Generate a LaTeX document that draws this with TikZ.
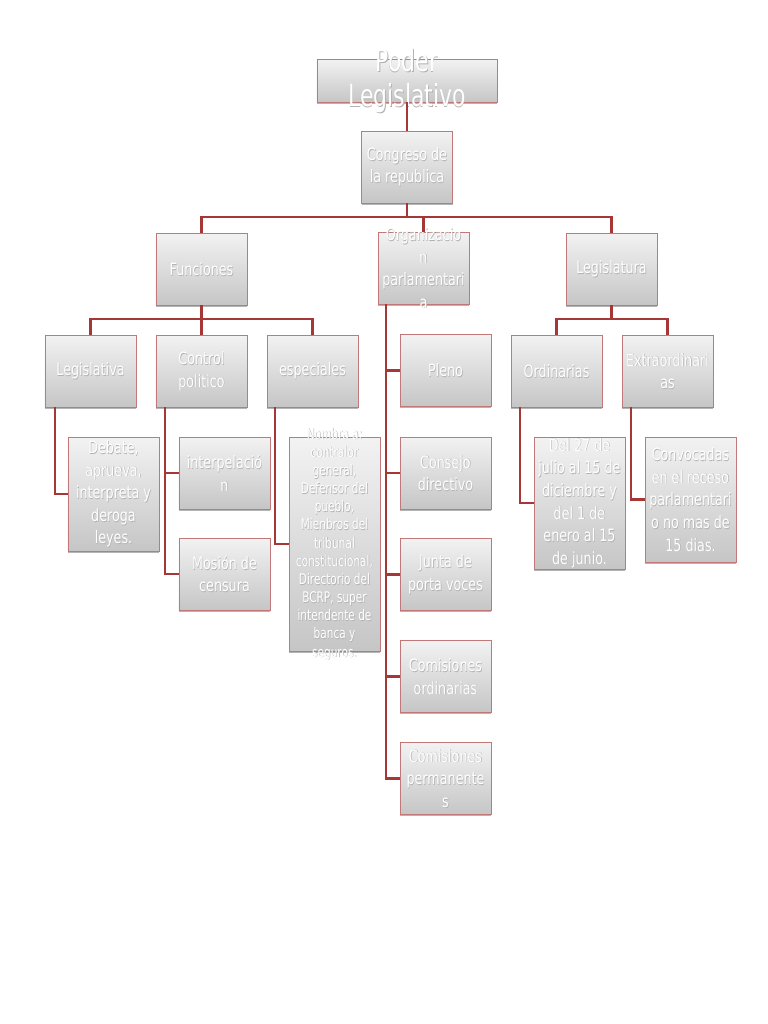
\documentclass[tikz,border=0pt]{standalone}
\usepackage{fontspec}
\usetikzlibrary{calc,shadows}
\newfontfamily\cajafont[FakeStretch=0.75]{DejaVu Sans}
\newfontfamily\chicafont[FakeStretch=0.72]{DejaVu Sans}
\newfontfamily\titulofont[FakeStretch=0.72]{DejaVu Sans}
\definecolor{rojo}{RGB}{165,55,55}
\definecolor{borde}{RGB}{192,120,120}
\tikzset{
  caja/.style={rectangle, draw=borde, line width=0.7pt, top color=gray!10, bottom color=gray!45,
    minimum width=2.73cm, minimum height=2.16cm, inner sep=0pt, outer sep=0pt,
    drop shadow={shadow xshift=0.3pt, shadow yshift=-1.5pt, opacity=0.45, fill=gray!70!black}},
  texto/.style={text=white, align=center, inner sep=0pt, font=\cajafont\fontsize{14.5}{19.3}\selectfont},
  sombra/.style={texto, text=gray!60, xshift=0.5pt, yshift=-0.6pt},
  chico/.style={font=\chicafont\fontsize{12.5}{15.5}\selectfont},
  grande/.style={font=\titulofont\fontsize{26}{30}\selectfont},
  rotulo con/.style 2 args={label={[sombra,#1]center:{#2}}, label={[texto,#1]center:{#2}}},
  rotulo/.style={rotulo con={}{#1}},
  linea/.style={draw=rojo, line width=2.3pt},
}
\begin{document}
\begin{tikzpicture}[x=0.03cm, y=-0.03cm]
  \useasboundingbox[fill=white] (0,0) rectangle (768,1024);
  % cajas
  \node[caja, minimum width=5.4cm, minimum height=1.29cm, rotulo con={grande}{Poder\\Legislativo}] (poder) at (407,80.5) {};
  \node[caja, rotulo={Congreso de\\la republica}] (congreso) at (407,167) {};
  \node[caja, rotulo={Funciones}] (funciones) at (201.5,269) {};
  \node[caja, rotulo={Organizacio\\n\\parlamentari\\a}] (organizacion) at (423.5,268) {};
  \node[caja, rotulo={Legislatura}] (legislatura) at (611.5,269) {};
  \node[caja, rotulo={Legislativa}] (legislativa) at (90.5,371) {};
  \node[caja, rotulo={Control\\politico}] (control) at (201.5,371) {};
  \node[caja, rotulo={especiales}] (especiales) at (312.5,371) {};
  \node[caja, minimum height=3.42cm, rotulo={Debate,\\aprueva,\\interpreta y\\deroga\\leyes.}] (debate) at (113.5,494) {};
  \node[caja, rotulo={interpelació\\n}] (interpelacion) at (224.5,473) {};
  \node[caja, rotulo={Mosión de\\censura}] (mosion) at (224.5,574) {};
  \node[caja, minimum height=6.42cm, rotulo con={chico}{Nombra a:\\contralor\\general,\\Defensor del\\pueblo,\\Mienbros del\\tribunal\\constitucional,\\Directorio del\\BCRP, super\\intendente de\\banca y\\seguros.}] (nombres) at (334.5,544) {};
  \node[caja, rotulo={Pleno}] (pleno) at (445.5,370.5) {};
  \node[caja, rotulo={Consejo\\directivo}] (consejo) at (445.5,473) {};
  \node[caja, rotulo={Junta de\\porta voces}] (junta) at (445.5,574.5) {};
  \node[caja, rotulo={Comisiones\\ordinarias}] (comOrd) at (445.5,676.5) {};
  \node[caja, rotulo={Comisiones\\permanente\\s}] (comPer) at (445.5,778.5) {};
  \node[caja, rotulo={Ordinarias}] (ordinarias) at (556.5,371) {};
  \node[caja, rotulo={Extraordinari\\as}] (extra) at (667.5,371) {};
  \node[caja, minimum height=3.96cm, rotulo={Del 27 de\\julio al 15 de\\diciembre y\\del 1 de\\enero al 15\\de junio.}] (del27) at (579.5,503) {};
  \node[caja, minimum height=3.75cm, rotulo={Convocadas\\en el receso\\parlamentari\\o no mas de\\15 dias.}] (convocadas) at (690.5,499.5) {};
  % lineas
  \draw[linea] (poder.south) -- (congreso.north);
  \draw[linea] (congreso.south) -- ++(0,14) coordinate (b1);
  \draw[linea] (funciones.north) |- (b1) -| (legislatura.north);
  \draw[linea] (organizacion.north) -- (organizacion.north |- b1);
  \draw[linea] (funciones.south) -- ++(0,14) coordinate (b2);
  \draw[linea] (legislativa.north) |- (b2) -| (especiales.north);
  \draw[linea] (control.north) -- (b2);
  \draw[linea] (legislatura.south) -- ++(0,14) coordinate (b3);
  \draw[linea] (ordinarias.north) |- (b3) -| (extra.north);
  \draw[linea] ($(legislativa.south west)+(10,0)$) |- (debate.west);
  \draw[linea] ($(control.south west)+(9,0)$) coordinate (c1) |- (mosion.west);
  \draw[linea] (c1 |- interpelacion.west) -- (interpelacion.west);
  \draw[linea] ($(especiales.south west)+(8,0)$) |- (nombres.west);
  \draw[linea] ($(organizacion.south west)+(8,0)$) coordinate (o1) |- (comPer.west);
  \foreach \n in {pleno,consejo,junta,comOrd} \draw[linea] (o1 |- \n.west) -- (\n.west);
  \draw[linea] ($(ordinarias.south west)+(9,0)$) |- (del27.west);
  \draw[linea] ($(extra.south west)+(9,0)$) |- (convocadas.west);
\end{tikzpicture}
\end{document}
